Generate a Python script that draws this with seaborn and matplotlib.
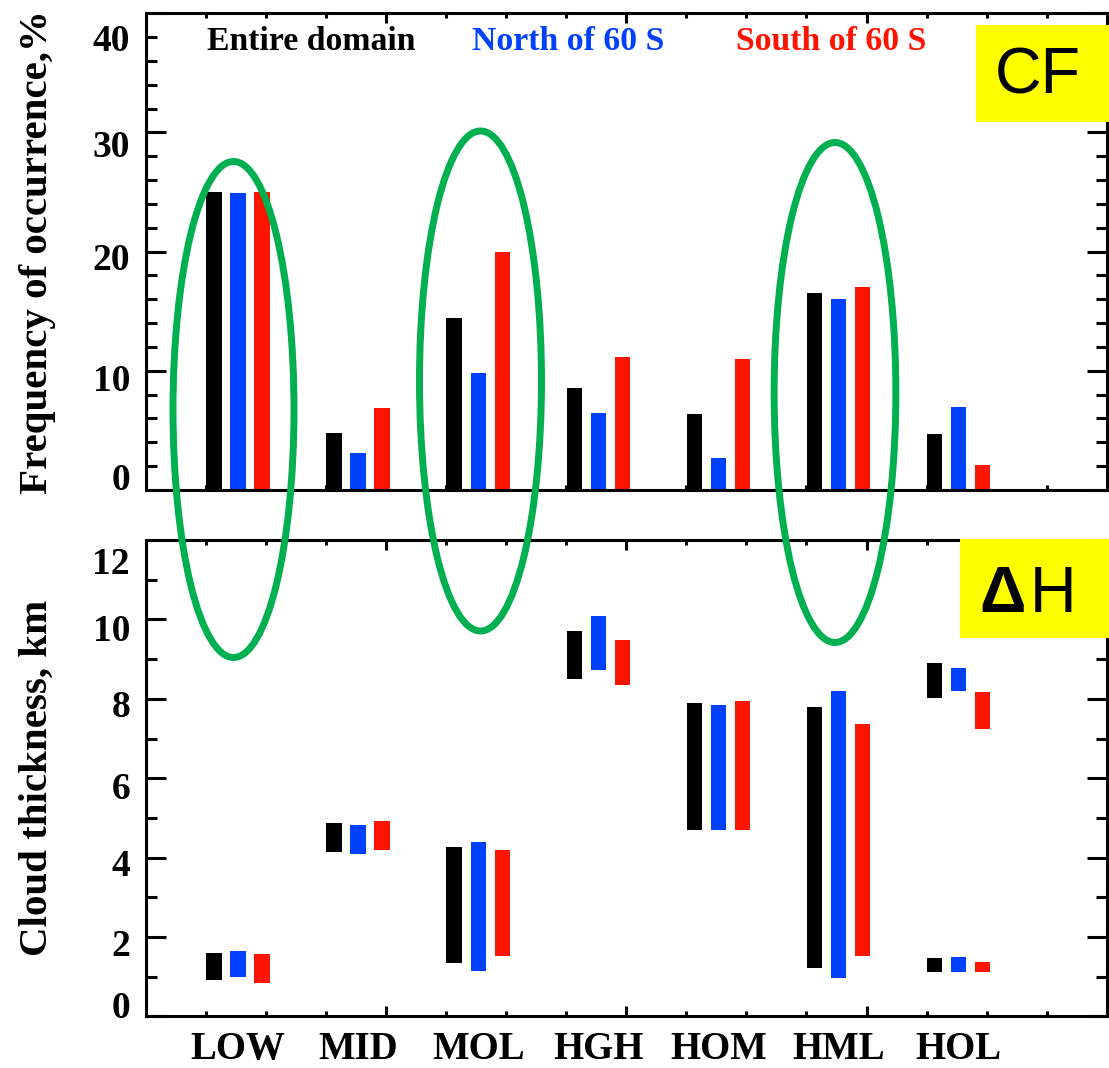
import numpy as np
import pandas as pd
import matplotlib
matplotlib.use("Agg")
import matplotlib.pyplot as plt
from matplotlib.patches import Ellipse, Rectangle
from matplotlib.transforms import ScaledTranslation
import seaborn as sns

# ---------------------------------------------------------------- data
categories = ["LOW", "MID", "MOL", "HGH", "HOM", "HML", "HOL"]
regions = ["Entire domain", "North of 60 S", "South of 60 S"]
region_colors = ["#000000", "#0040FF", "#FF1400"]

# frequency of occurrence, %
freq_entire = [25.0, 4.8, 14.4, 8.6, 6.4, 16.5, 4.7]
freq_north = [24.9, 3.1, 9.8, 6.5, 2.7, 16.0, 7.0]
freq_south = [25.0, 6.9, 20.0, 11.2, 11.0, 17.0, 2.1]

# cloud base / top heights, km (upper layer for HOL)
base_entire = [0.92, 4.14, 1.35, 8.50, 4.70, 1.21, 8.01]
top_entire = [1.60, 4.87, 4.27, 9.72, 7.90, 7.79, 8.91]
base_north = [0.98, 4.09, 1.15, 8.73, 4.70, 0.96, 8.20]
top_north = [1.65, 4.81, 4.40, 10.09, 7.84, 8.20, 8.78]
base_south = [0.83, 4.18, 1.51, 8.34, 4.70, 1.52, 7.24]
top_south = [1.56, 4.91, 4.20, 9.48, 7.94, 7.36, 8.16]

# lower layer of HOL (entire, north, south)
hol_low_base = [1.11, 1.11, 1.11]
hol_low_top = [1.46, 1.50, 1.36]

freq_all = [freq_entire, freq_north, freq_south]
base_all = [base_entire, base_north, base_south]
top_all = [top_entire, top_north, top_south]

rows = []
for k, reg in enumerate(regions):
    for i, cat in enumerate(categories):
        rows.append(dict(region=reg, category=cat, pos=i + (k - 1) * 0.2,
                         freq=freq_all[k][i], base=base_all[k][i],
                         thick=top_all[k][i] - base_all[k][i]))
df = pd.DataFrame(rows)

low_rows = []
for k, reg in enumerate(regions):
    low_rows.append(dict(region=reg, category="HOL", pos=6 + (k - 1) * 0.2,
                         base=hol_low_base[k],
                         thick=hol_low_top[k] - hol_low_base[k]))
df_low = pd.DataFrame(low_rows)

# ---------------------------------------------------------------- style
sns.set_style("white")
plt.rcParams["font.family"] = ["Liberation Serif", "DejaVu Serif"]
plt.rcParams["font.weight"] = "bold"
plt.rcParams["axes.linewidth"] = 2.2
for key in ["text.color", "axes.labelcolor", "xtick.color", "ytick.color",
            "axes.edgecolor"]:
    plt.rcParams[key] = "black"

W, H = 1109, 1068
fig = plt.figure(figsize=(W / 100, H / 100), dpi=100)
fig.patch.set_facecolor("white")

ax_left = 146 / W
ax_width = 960.7 / W
ax1 = fig.add_axes([ax_left, 1 - 490 / H, ax_width, 476.7 / H])
ax2 = fig.add_axes([ax_left, 1 - 1016.4 / H, ax_width, 476.4 / H])

BAR_W = 0.129
X_LEFT = -0.7667
X_RIGHT = X_LEFT + 8

# top panel: frequency bars
for k, reg in enumerate(regions):
    sub = df[df.region == reg].sort_values("pos")
    sns.barplot(data=sub, x="pos", y="freq", native_scale=True, orient="x",
                width=BAR_W, color=region_colors[k], saturation=1,
                errorbar=None, linewidth=0, ax=ax1)

# bottom panel: floating bars from base to top
for k, reg in enumerate(regions):
    sub = df[df.region == reg].sort_values("pos")
    sns.barplot(data=sub, x="pos", y="thick", native_scale=True, orient="x",
                width=BAR_W, color=region_colors[k], saturation=1,
                errorbar=None, linewidth=0, bottom=sub["base"].values, ax=ax2)
    sub_low = df_low[df_low.region == reg]
    sns.barplot(data=sub_low, x="pos", y="thick", native_scale=True, orient="x",
                width=BAR_W, color=region_colors[k], saturation=1,
                errorbar=None, linewidth=0, bottom=sub_low["base"].values, ax=ax2)

long_ticks = [X_LEFT + 2 * k for k in range(1, 4)]
short_ticks = [X_LEFT + 0.5 * k for k in range(1, 16)]

tick_offsets = [
    (ax1, [0, 10, 20, 30, 40], list(range(2, 40, 2)), (0, 40),
     {0: -13, 10: 7, 20: 5, 30: 11, 40: 24}),
    (ax2, [0, 2, 4, 6, 8, 10, 12], list(range(1, 12, 2)), (0, 12),
     {0: -12, 2: 6, 4: 5, 6: 7, 8: 5, 10: 8, 12: 21}),
]

for ax, majors, minors, ylim, offs in tick_offsets:
    ax.set_xlim(X_LEFT, X_RIGHT)
    ax.set_ylim(*ylim)
    ax.set_xlabel("")
    ax.set_ylabel("")
    ax.set_xticks(long_ticks)
    ax.set_xticks(short_ticks, minor=True)
    ax.tick_params(axis="x", which="major", direction="in", length=7.2,
                   width=2.2, top=True, bottom=True, labelbottom=False,
                   color="black")
    ax.tick_params(axis="x", which="minor", direction="in", length=3.6,
                   width=2.2, top=True, bottom=True, color="black")
    ax.set_yticks(majors, labels=[str(v) for v in majors])
    ax.set_yticks(minors, minor=True)
    ax.tick_params(axis="y", which="major", direction="in", length=14.4,
                   width=2.2, left=True, right=True, labelsize=27, pad=11.5,
                   color="black", labelcolor="black")
    ax.tick_params(axis="y", which="minor", direction="in", length=7.6,
                   width=2.2, left=True, right=True, color="black")
    for v, lbl in zip(majors, ax.get_yticklabels()):
        lbl.set_fontweight("bold")
        lbl.set_transform(lbl.get_transform() +
                          ScaledTranslation(0, -offs[v] / 100, fig.dpi_scale_trans))
    for sp in ax.spines.values():
        sp.set_visible(True)
        sp.set_color("black")
        sp.set_linewidth(2.2)

ax1.set_ylabel("Frequency of occurrence,%", fontsize=29.5, fontweight="bold",
               color="black")
ax2.set_ylabel("Cloud thickness, km", fontsize=29.5, fontweight="bold",
               color="black")
ax1.yaxis.set_label_coords((56 - 146) / 960.7, 0.5)
ax2.yaxis.set_label_coords((56 - 146) / 960.7, 0.5)

# category names under the lower panel
sec = ax2.secondary_xaxis("bottom")
sec.set_xticks(range(len(categories)), labels=categories)
sec.tick_params(length=0, pad=10.5, labelsize=28, labelcolor="black")
for lbl in sec.get_xticklabels():
    lbl.set_fontweight("bold")
sec.spines["bottom"].set_visible(False)

# region legend written across the top panel
legend_x = [207, 471.7, 736]
for k, reg in enumerate(regions):
    ax1.text((legend_x[k] - 146) / 960.7, (490 - 50) / 476.7, reg,
             transform=ax1.transAxes, color=region_colors[k], fontsize=24.3,
             fontweight="bold", ha="left", va="baseline")

# panel tags
fig.add_artist(Rectangle((976 / W, 1 - 121.7 / H), (W - 976) / W, 96.7 / H,
                         transform=fig.transFigure, facecolor="#FFFF00",
                         edgecolor="none", zorder=5))
fig.text(995 / W, 1 - 94 / H, "CF", fontsize=46.5, family="Liberation Sans",
         fontweight="normal", color="black", ha="left", va="baseline", zorder=6)

fig.add_artist(Rectangle((960 / W, 1 - 638.3 / H), (W - 960) / W, 99.3 / H,
                         transform=fig.transFigure, facecolor="#FFFF00",
                         edgecolor="none", zorder=5))
fig.text(979 / W, 1 - 611.7 / H, "\u0394", fontsize=46.5, family="Liberation Sans",
         fontweight="bold", color="black", ha="left", va="baseline", zorder=6)
fig.text(1030 / W, 1 - 611.7 / H, "H", fontsize=46.5, family="Liberation Sans",
         fontweight="normal", color="black", ha="left", va="baseline", zorder=6)

# green ellipses highlighting LOW, MOL and HML across both panels
for cx, cy, ew, eh in [(233.5, 409.5, 121, 496),
                       (480.5, 381, 122, 500),
                       (835, 392.5, 121.7, 500)]:
    fig.add_artist(Ellipse((cx / W, 1 - cy / H), ew / W, eh / H,
                           transform=fig.transFigure, fill=False,
                           edgecolor="#00B050", linewidth=5, zorder=10))

fig.savefig("out.png", dpi=100)
